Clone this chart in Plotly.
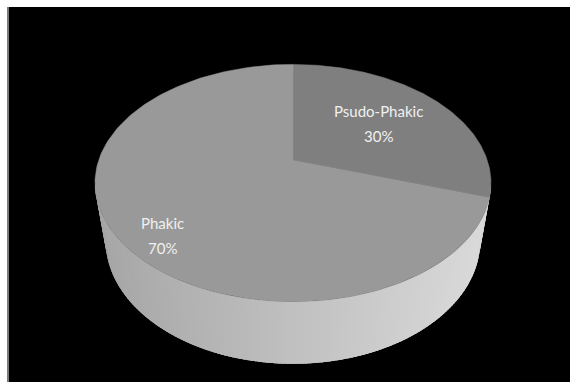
import numpy as np
import plotly.graph_objects as go

# ---- data ----
labels = ["Psudo-Phakic", "Phakic"]
values = [30, 70]

# ---- styling ----
top_colors = ["#7f7f7f", "#999999"]
side_dark = [150, 166]
side_light = [190, 218]
W, Hpx = 570, 382
cx, cy = 293, 160
elev = np.radians(36)
dist = 4.17
focal = 810
depth = 0.39


def proj(theta, r=1.0, z=0.0):
    X = r * np.sin(theta)
    D = r * np.cos(theta)
    w = dist + D * np.cos(elev) - z * np.sin(elev)
    v = D * np.sin(elev) + z * np.cos(elev)
    return cx + focal * X / w, cy - focal * v / w


fig = go.Figure()

total = float(sum(values))
fracs = [v / total for v in values]
starts = np.cumsum([0] + fracs[:-1]) * 2 * np.pi
ends = np.cumsum(fracs) * 2 * np.pi

# visible side range (silhouette)
th_sil = np.arccos(-0.194)
vis0, vis1 = th_sil, 2 * np.pi - th_sil

x_left, _ = proj(2 * np.pi - th_sil)
x_right, _ = proj(th_sil)

# side walls: overlapping strips (each reaches to the far end, later ones on top)
for i in range(len(values)):
    a0 = max(starts[i], vis0)
    a1 = min(ends[i], vis1)
    if a1 <= a0:
        continue
    n = max(2, int(np.degrees(a1 - a0) / 1.0))
    edges = np.linspace(a0, a1, n + 1)
    for k in range(n):
        t0 = edges[k]
        t1 = min(edges[k + 1] + (a1 - a0) / n * 1.5, a1)
        ts = np.linspace(t0, t1, 5)
        xt, yt = proj(ts)
        xb, yb = proj(ts[::-1], z=-depth)
        xs = np.concatenate([xt, xb, xt[:1]])
        ys = np.concatenate([yt, yb, yt[:1]])
        xm, _ = proj((edges[k] + edges[k + 1]) / 2)
        f = np.clip((xm - x_left) / (x_right - x_left), 0, 1)
        g = int(round(side_dark[i] + f * (side_light[i] - side_dark[i])))
        col = f"rgb({g},{g},{g})"
        fig.add_trace(go.Scatter(x=xs, y=ys, mode="lines", fill="toself",
                                 fillcolor=col, line=dict(width=0),
                                 hoverinfo="skip", showlegend=False))

# top slices
for i in range(len(values)):
    ts = np.linspace(starts[i], ends[i], 200)
    xa, ya = proj(ts)
    x0, y0 = proj(0.0, r=0.0)
    xs = np.concatenate([[x0], xa, [x0]])
    ys = np.concatenate([[y0], ya, [y0]])
    fig.add_trace(go.Scatter(x=xs, y=ys, mode="lines", fill="toself",
                             fillcolor=top_colors[i],
                             line=dict(color=top_colors[i], width=0.5),
                             hoverinfo="skip", showlegend=False))

# labels
label_r = [0.58, 0.76]
label_dy = [0, 20]
for i in range(len(values)):
    mid = (starts[i] + ends[i]) / 2
    lx, ly = proj(mid, r=label_r[i])
    ly = ly + label_dy[i]
    pct = f"{round(fracs[i] * 100)}%"
    for j, txt in enumerate([labels[i], pct]):
        fig.add_annotation(x=lx, y=ly - 12.5 + 25 * j, text=txt, showarrow=False,
                           font=dict(family="Lato", size=15, color="#f0f0f0"),
                           xanchor="center", yanchor="middle")

fig.update_layout(
    width=W, height=Hpx,
    margin=dict(l=0, r=0, t=0, b=0),
    paper_bgcolor="white", plot_bgcolor="white",
    xaxis=dict(range=[0, W], visible=False, fixedrange=True),
    yaxis=dict(range=[Hpx, 0], visible=False, fixedrange=True),
    shapes=[
        dict(type="rect", xref="x", yref="y", x0=7, y0=7, x1=W, y1=Hpx,
             fillcolor="black", line=dict(width=0), layer="below"),
        dict(type="line", xref="x", yref="y", x0=8, y0=7, x1=8, y1=Hpx,
             line=dict(color="#7a7a7a", width=2), layer="below"),
    ],
)

fig.write_html("out.html")
